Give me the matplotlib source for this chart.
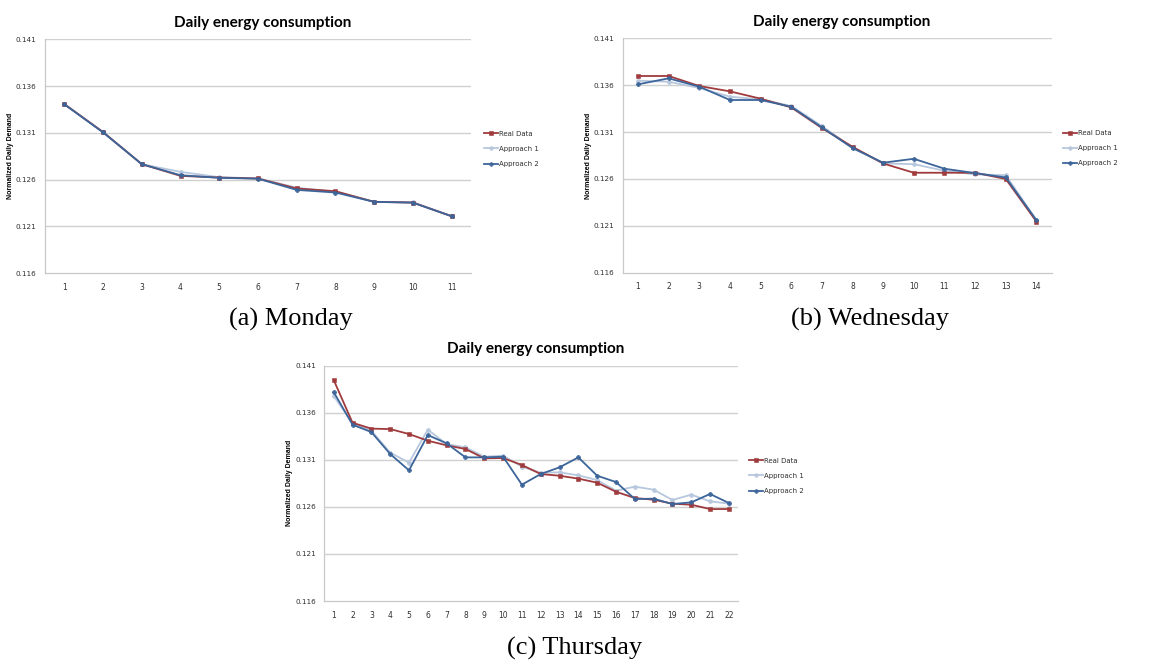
import matplotlib
matplotlib.use("Agg")
import matplotlib.pyplot as plt
import numpy as np

# ---------------- data ----------------
series_names = ["Real Data", "Approach 1", "Approach 2"]
y_ticks = [0.116, 0.121, 0.126, 0.131, 0.136, 0.141]

mon_days = list(range(1, 12))
mon_real = [0.13407, 0.13107, 0.12764, 0.12639, 0.12621, 0.12611, 0.12504, 0.12475, 0.12361, 0.12354, 0.12207]
mon_app1 = [0.13407, 0.13107, 0.12764, 0.12682, 0.12625, 0.12612, 0.12512, 0.12470, 0.12362, 0.12356, 0.12210]
mon_app2 = [0.13404, 0.13104, 0.12764, 0.12646, 0.12618, 0.12609, 0.12489, 0.12461, 0.12361, 0.12352, 0.12207]

wed_days = list(range(1, 15))
wed_real = [0.13698, 0.13698, 0.13591, 0.13534, 0.13456, 0.13363, 0.13143, 0.12943, 0.12765, 0.12666, 0.12666, 0.12666, 0.12600, 0.12146]
wed_app1 = [0.13648, 0.13637, 0.13570, 0.13477, 0.13449, 0.13378, 0.13164, 0.12936, 0.12765, 0.12758, 0.12687, 0.12648, 0.12641, 0.12161]
wed_app2 = [0.13609, 0.13673, 0.13584, 0.13442, 0.13442, 0.13370, 0.13150, 0.12929, 0.12773, 0.12815, 0.12709, 0.12662, 0.12616, 0.12161]

thu_days = list(range(1, 23))
thu_real = [0.13948, 0.13494, 0.13431, 0.13427, 0.13374, 0.13303, 0.13254, 0.13215, 0.13116, 0.13119, 0.13045,
            0.12949, 0.12931, 0.12900, 0.12857, 0.12761, 0.12694, 0.12676, 0.12634, 0.12623, 0.12577, 0.12577]
thu_app1 = [0.13778, 0.13487, 0.13410, 0.13176, 0.13070, 0.13420, 0.13268, 0.13232, 0.13133, 0.13144, 0.13027,
            0.12963, 0.12967, 0.12935, 0.12885, 0.12772, 0.12815, 0.12783, 0.12673, 0.12730, 0.12659, 0.12634]
thu_app2 = [0.13820, 0.13473, 0.13395, 0.13162, 0.12988, 0.13363, 0.13275, 0.13126, 0.13126, 0.13133, 0.12836,
            0.12949, 0.13020, 0.13126, 0.12931, 0.12864, 0.12684, 0.12687, 0.12630, 0.12648, 0.12737, 0.12641]

captions = ["(a) Monday", "(b) Wednesday", "(c) Thursday"]
chart_title = "Daily energy consumption"
y_label = "Normalized Daily Demand"

# ---------------- style ----------------
colors = ["#A03B3D", "#B7C7DE", "#3C659A"]
markers = ["s", "P", "P"]
msizes = [3.2, 3.2, 3.2]
W, H = 1157, 662

fig = plt.figure(figsize=(W / 100, H / 100), dpi=100)


def px_axes(x0, y_top, x1, y_bot):
    return fig.add_axes([x0 / W, 1 - y_bot / H, (x1 - x0) / W, (y_bot - y_top) / H])


def draw_chart(ax, days, vals, legend_pos):
    n = len(days)
    ax.set_xlim(0.5, n + 0.5)
    ax.set_ylim(0.116, 0.141)
    for yv in y_ticks[1:]:
        ax.axhline(yv, color="#D0D0D0", lw=1.0, zorder=0)
    lines = []
    for v, c, m, ms, name in zip(vals, colors, markers, msizes, series_names):
        ln, = ax.plot(days, v, color=c, lw=1.3, marker=m, ms=ms, mec=c, mfc=c, mew=0.4,
                      label=name, zorder=3 if name != "Approach 1" else 2)
        lines.append(ln)
    ax.set_yticks(y_ticks)
    ax.set_yticklabels([f"{t:.3f}" for t in y_ticks])
    ax.set_xticks(days)
    ax.set_xticklabels([str(d) for d in days])
    ax.tick_params(axis="y", length=0, labelsize=5.2, labelcolor="#303030", pad=6)
    ax.tick_params(axis="x", length=0, labelsize=5.5, labelcolor="#303030", pad=7)
    for s in ["top", "right"]:
        ax.spines[s].set_visible(False)
    ax.spines["left"].set_color("#C8C8C8")
    ax.spines["bottom"].set_color("#C8C8C8")
    ax.spines["left"].set_linewidth(0.9)
    ax.spines["bottom"].set_linewidth(0.9)
    ax.set_facecolor("white")
    ax.set_ylabel(y_label, fontsize=5, fontweight="bold", family="Liberation Sans")
    ax.yaxis.set_label_coords(-31 / ax.get_position().width / W, 0.5)
    ax.set_title(chart_title, fontsize=11, fontweight="bold", family="Lato", pad=9, x=0.51)
    leg = ax.legend(handles=lines, loc="upper left", bbox_to_anchor=legend_pos, frameon=False,
                    fontsize=5, handlelength=2.0, handletextpad=0.1, labelspacing=1.3,
                    borderaxespad=0, markerscale=0.9)
    for t in leg.get_texts():
        t.set_color("#303030")


ax_a = px_axes(45, 39.3, 471, 273)
draw_chart(ax_a, mon_days, [mon_real, mon_app1, mon_app2], (1.025, 0.62))

ax_b = px_axes(622.7, 38.3, 1051.7, 272.7)
draw_chart(ax_b, wed_days, [wed_real, wed_app1, wed_app2], (1.02, 0.62))

ax_c = px_axes(324.3, 365.7, 738.3, 601)
draw_chart(ax_c, thu_days, [thu_real, thu_app1, thu_app2], (1.02, 0.62))

cap_kw = dict(fontsize=19, family="Liberation Serif", ha="center", va="center")
fig.text(291 / W, 1 - 319 / H, captions[0], **cap_kw)
fig.text(870 / W, 1 - 319 / H, captions[1], **cap_kw)
fig.text(575 / W, 1 - 648 / H, captions[2], **cap_kw)

fig.savefig("out.png", dpi=100, facecolor="white")
